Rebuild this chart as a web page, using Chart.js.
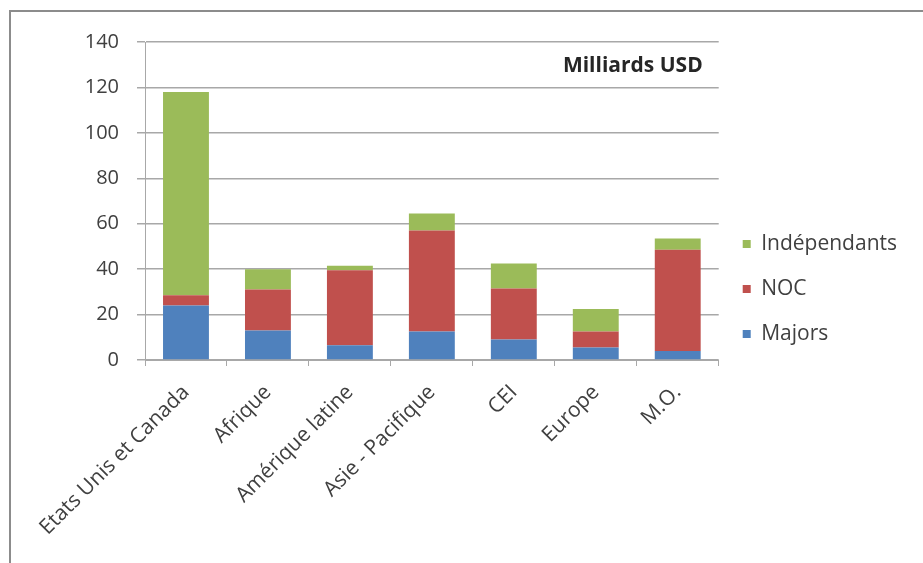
<!DOCTYPE html>
<html>
<head>
<meta charset="utf-8">
<script src="https://cdn.jsdelivr.net/npm/chart.js@4.4.0/dist/chart.umd.min.js"></script>
<style>
    html, body { margin: 0; padding: 0; background: #fff; }
    #wrap { width: 923px; height: 563px; position: relative; }
</style>
</head>
<body>
<div id="wrap"><canvas id="chart"></canvas></div>
<script>
// Régions
const regions = [
    "Etats Unis et Canada", "Afrique", "Amérique latine",
    "Asie - Pacifique", "CEI", "Europe", "M.O."
];

// Valeurs en milliards USD
const majors = [24, 13, 6.5, 12.5, 9, 5.5, 4];
const noc = [4.5, 18, 33, 44.5, 22.5, 7, 44.5];
const independants = [89.5, 9, 2, 7.5, 11, 10, 5];

const yTicks = [0, 20, 40, 60, 80, 100, 120, 140];
const unitLabel = "Milliards USD";

const textColor = "#404040";
const gridColor = "#a8a8a8";

// Cadre gris + libellé de l'unité
const framePlugin = {
    id: "frame",
    beforeDraw(chart) {
        const ctx = chart.ctx;
        ctx.save();
        ctx.strokeStyle = "#8c8c8c";
        ctx.lineWidth = 2;
        ctx.beginPath();
        ctx.moveTo(chart.width, 11);
        ctx.lineTo(10, 11);
        ctx.lineTo(10, chart.height);
        ctx.stroke();
        ctx.restore();
    },
    afterDraw(chart) {
        const ctx = chart.ctx;
        const area = chart.chartArea;
        ctx.save();
        ctx.font = "bold 21px 'Open Sans'";
        ctx.fillStyle = "#262626";
        ctx.textAlign = "right";
        ctx.textBaseline = "middle";
        ctx.fillText(unitLabel, area.right - 16, area.top + 24);
        ctx.restore();
    }
};

const ctx = document.getElementById("chart").getContext("2d");

new Chart(ctx, {
    type: "bar",
    data: {
        labels: regions,
        datasets: [
            { label: "Majors", data: majors, backgroundColor: "#4f81bd" },
            { label: "NOC", data: noc, backgroundColor: "#c0504d" },
            { label: "Indépendants", data: independants, backgroundColor: "#9bbb59" }
        ]
    },
    options: {
        responsive: true,
        maintainAspectRatio: false,
        animation: false,
        datasets: {
            bar: { barPercentage: 0.56, categoryPercentage: 1 }
        },
        layout: { padding: { left: 10, top: 42, right: 16, bottom: 27 } },
        scales: {
            x: {
                stacked: true,
                afterFit: scale => { scale.height = 176; },
                grid: {
                    offset: true,
                    drawOnChartArea: false,
                    drawTicks: true,
                    tickLength: 6,
                    color: gridColor
                },
                border: { color: gridColor, width: 1 },
                ticks: {
                    minRotation: 45,
                    maxRotation: 45,
                    autoSkip: false,
                    padding: 14,
                    color: textColor,
                    font: { family: "'Open Sans'", size: 21 }
                }
            },
            y: {
                stacked: true,
                min: 0,
                max: 140,
                afterFit: scale => { scale.width = 135; },
                afterBuildTicks: scale => {
                    scale.ticks = yTicks.map(v => ({ value: v }));
                },
                grid: {
                    color: gridColor,
                    lineWidth: 1.5,
                    tickLength: 8
                },
                border: { color: gridColor, width: 1 },
                ticks: {
                    padding: 18,
                    color: textColor,
                    font: { family: "'Open Sans'", size: 20 }
                }
            }
        },
        plugins: {
            legend: {
                position: "right",
                reverse: true,
                labels: {
                    boxWidth: 8,
                    boxHeight: 8,
                    padding: 24,
                    color: textColor,
                    font: { family: "'Open Sans'", size: 21 }
                }
            },
            tooltip: { enabled: false }
        }
    },
    plugins: [framePlugin]
});
</script>
</body>
</html>
